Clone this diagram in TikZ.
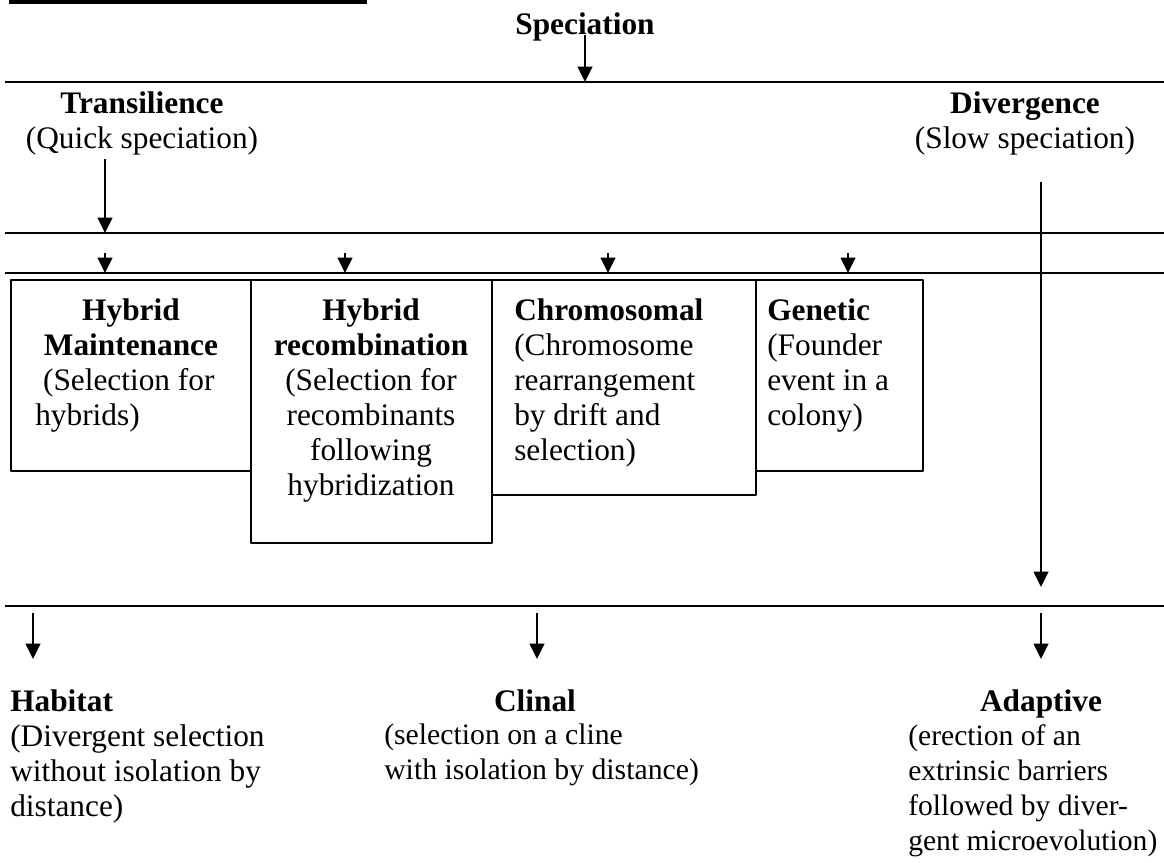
\documentclass[tikz,border=0pt]{standalone}
\usepackage{fontspec}
\setmainfont{Liberation Serif}
\usetikzlibrary{arrows.meta}
\tikzset{
  rule/.style={line width=2pt},
  arr/.style={->, line width=1.2pt},
  box/.style={draw, line width=1.3pt, anchor=north west, inner sep=0pt},
  txt/.style={inner sep=0pt, align=left, anchor=north west},
  ctxt/.style={inner sep=0pt, align=center, anchor=north}
}
\begin{document}
\begin{tikzpicture}[x=0.75pt, y=-0.75pt, font=\fontsize{23.5}{26.25}\selectfont, line join=round, >={Triangle[length=11.5pt,width=11pt]}]
\def\xmin{5}\def\xmax{1164}
\useasboundingbox (0,0) rectangle (1164,863);
\draw[line width=2.6pt] (9,2)--(367,2);
\node[inner sep=0pt, anchor=base] (spec) at (585,35) {\textbf{Speciation}};
\coordinate (l1) at (585,82);
\draw[arr] (spec.base)--(l1);
\foreach \y in {82,233,273,606}\draw[rule] (\xmin,\y)--(\xmax,\y);
\node[ctxt] (trans) at (142,91) {\textbf{Transilience}\\(Quick speciation)};
\node[ctxt] (div) at (1025,91) {\textbf{Divergence}\\(Slow speciation)};
\coordinate (t2) at (105,233);
\draw[arr, shorten <=3pt] (trans.south-|t2)--(t2);
\coordinate (d4) at (1041,587);
\draw[arr, shorten <=20pt] (div.south-|d4)--(d4);
\foreach \x in {105,345,608,848}\draw[arr] (\x,253)--(\x,273);
\node[box, minimum width=180pt, minimum height=143.25pt] (hmbox) at (10,279) {};
\node[box, minimum width=180.75pt, minimum height=197.25pt] (hrbox) at (250,279) {};
\node[box, minimum width=198pt, minimum height=161.25pt] (chbox) at (491,279) {};
\node[box, minimum width=125.25pt, minimum height=143.25pt] (gebox) at (755,279) {};
\node[ctxt] (hmtitle) at (hmbox.north-|131,0) [yshift=-14.25pt] {\textbf{Hybrid}\\\textbf{Maintenance}};
\node[txt] (hmtext) at (35,368) {\ (Selection for\\hybrids)};
\node[ctxt] (hrtext) at (371,298) {\textbf{Hybrid}\\\textbf{recombination}\\(Selection for\\recombinants\\following\\hybridization};
\node[txt] (chtext) at (514,298) {\textbf{Chromosomal}\\(Chromosome\\rearrangement\\by drift and\\selection)};
\node[txt] (getext) at (767,298) {\textbf{Genetic}\\(Founder\\event in a\\colony)};
\foreach \x in {33,537,1041}\draw[arr] (\x,613)--(\x,659);
\node[txt] (habitat) at (10,689) {\textbf{Habitat}\\(Divergent selection\\without isolation by\\distance)};
\node[ctxt] (clinal) at (535,689) {\textbf{Clinal}};
\node[txt, font=\fontsize{22.3}{26.25}\selectfont] (clinaltext) at (384,724) {(selection on a cline\\with isolation by distance)};
\node[ctxt] (adaptive) at (1041,689) {\textbf{Adaptive}};
\node[txt, font=\fontsize{22.2}{26.25}\selectfont] (adaptivetext) at (908,724) {(erection of an\\extrinsic barriers\\followed by diver-\\gent microevolution)};
\end{tikzpicture}
\end{document}
